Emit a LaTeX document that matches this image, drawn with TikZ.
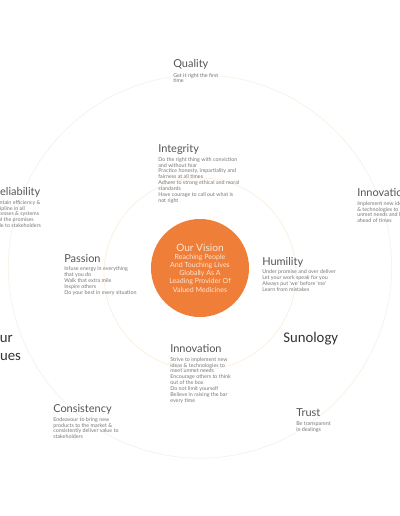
\documentclass[tikz,border=0pt]{standalone}
\usepackage{fontspec}
\setmainfont{Lato}
\newfontfamily\calib{Carlito}
\usetikzlibrary{positioning}
\definecolor{svorange}{RGB}{239,126,56}
\definecolor{svpeach}{RGB}{253,230,212}
\definecolor{svtitle}{RGB}{85,85,85}
\definecolor{svtext}{RGB}{120,120,120}
\definecolor{svring}{RGB}{244,240,226}
\definecolor{svinner}{RGB}{252,236,218}

\begin{document}
\begin{tikzpicture}[
  x=0.025cm, y=-0.025cm,
  ttl/.style={font=\fontsize{7.8}{9}\selectfont, text=svtitle, inner sep=0pt, anchor=base west},
  body/.style={font=\fontsize{3.8}{4.15}\selectfont, text=svtext, inner sep=0pt, align=left},
  big/.style={font=\calib\fontsize{10.5}{12.6}\selectfont, text=black!80, inner sep=0pt},
  vision/.style={circle, fill=svorange, minimum size=2.45cm, inner sep=0pt, align=center,
    text=svpeach, font=\fontsize{5}{5.8}\selectfont},
  ring/.style={draw=svring, line width=0.4pt},
]
  \useasboundingbox (0,0) rectangle (400,516);
  \clip (0,0) rectangle (400,516);
  \fill[white] (0,0) rectangle (400,516);

  % faint rings behind the values
  \draw[ring] (200,266.5) circle[radius=4.79cm];
  \draw[ring, draw=svinner] (200,274) circle[radius=2.4cm];

  % centre
  \node[vision] (vision) at (200,268) {{\fontsize{7.2}{8.6}\selectfont Our Vision}\\Reaching People\\And Touching Lives\\Globally As A\\Leading Provider Of\\Valued Medicines};

  % outer values
  \node[ttl] (qual) at (173,67.5) {Quality};
  \node[body, below right=3.8pt and 0pt of qual.base west] (qualtx) {Get it right the first\\time};

  \node[ttl] (relia) at (-6.6,195) {Reliability};
  \node[body, below right=3.6pt and 0pt of relia.base west, xshift=-2pt] (reliatx) {Maintain efficiency \&\\discipline in all\\processes \& systems\\Fulfil the promises\\made to stakeholders};

  \node[ttl] (innovr) at (357,196) {Innovation};
  \node[body, below right=3.6pt and 0pt of innovr.base west] (innovrtx) {Implement new ideas\\\& technologies to meet\\unmet needs and be\\ahead of times};

  \node[ttl] (consis) at (53,412) {Consistency};
  \node[body, below right=3.6pt and 0pt of consis.base west] (consistx) {Endeavour to bring new\\products to the market \&\\consistently deliver value to\\stakeholders};

  \node[ttl] (trust) at (296,416.5) {Trust};
  \node[body, below right=3.6pt and 0pt of trust.base west] (trusttx) {Be transparent\\in dealings};

  % inner values
  \node[ttl] (integ) at (158,152.5) {Integrity};
  \node[body, below right=3.2pt and 0pt of integ.base west] (integtx) {Do the right thing with conviction\\and without fear\\Practice honesty, impartiality and\\fairness at all times\\Adhere to strong ethical and moral\\standards\\Have courage to call out what is\\not right};

  \node[ttl] (pass) at (64,262) {Passion};
  \node[body, below right=3.2pt and 0pt of pass.base west] (passtx) {Infuse energy in everything\\that you do\\Walk that extra mile\\Inspire others\\Do your best in every situation};

  \node[ttl] (humil) at (262,265) {Humility};
  \node[body, below right=3.2pt and 0pt of humil.base west] (humiltx) {Under promise and over deliver\\Let your work speak for you\\Always put `we' before `me'\\Learn from mistakes};

  \node[ttl] (innovb) at (170,352.5) {Innovation};
  \node[body, below right=3.2pt and 0pt of innovb.base west] (innovbtx) {Strive to implement new\\ideas \& technologies to\\meet unmet needs\\Encourage others to think\\out of the box\\Do not limit yourself\\Believe in raising the bar\\every time};

  % headings
  \node[big, align=center] (values) at (1.5,347) {Our\\Values};
  \node[big, anchor=base west] (suno) at (283,342) {Sunology};
\end{tikzpicture}
\end{document}
